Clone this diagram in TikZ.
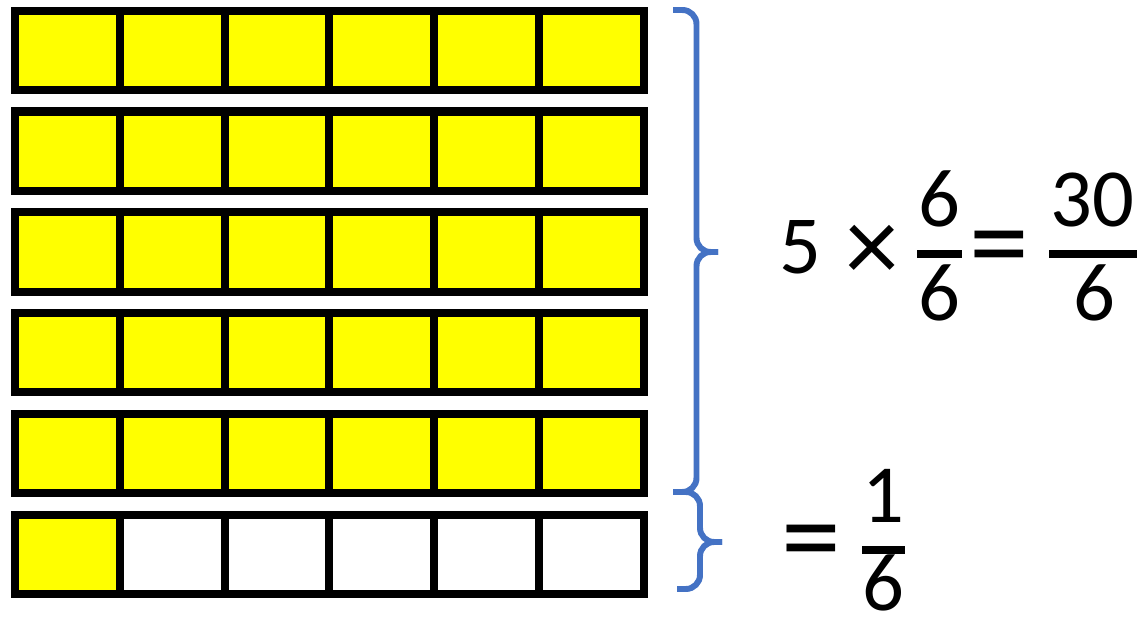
\documentclass[tikz,border=0pt]{standalone}
\usepackage{fontspec}
\setmainfont{Carlito}
\definecolor{gridyellow}{HTML}{FFFF00}
\definecolor{bracketblue}{HTML}{4472C4}
\begin{document}
\begin{tikzpicture}[x=1cm,y=-1cm,
    cell/.style={draw=black,line width=2.3pt},
    bracket/.style={draw=bracketblue,line width=1.7pt,rounded corners=4pt},
    digit/.style={inner sep=0pt,anchor=south,font=\fontsize{23.5}{28}\selectfont},
    sign/.style={inner sep=0pt,anchor=center,font=\fontsize{23.5}{28}\selectfont},
    fracbar/.style={line width=2pt}]
  \useasboundingbox (0,0) rectangle (11.4,6.21);

  % five whole bars
  \foreach \r in {0,...,4}
    \foreach \c in {0,...,5}
      \draw[cell,fill=gridyellow] ({0.15+1.048*\c},{0.107+1.008*\r})
        rectangle +(1.048,0.793);

  % last bar, only one sixth filled
  \draw[cell,fill=gridyellow] (0.15,5.147) rectangle +(1.048,0.793);
  \foreach \c in {1,...,5}
    \draw[cell,fill=white] ({0.15+1.048*\c},5.147) rectangle +(1.048,0.793);

  % big brace (five bars)
  \draw[bracket] (6.73,0.10) -- (6.965,0.10) -- (6.965,2.52) -- (7.18,2.52);
  \draw[bracket] (7.18,2.52) -- (6.965,2.52) -- (6.965,4.92) -- (6.73,4.92);

  % small brace (last bar)
  \draw[bracket] (6.73,4.92) -- (7.0,4.92) -- (7.0,5.42) -- (7.22,5.42);
  \draw[bracket] (7.22,5.42) -- (7.0,5.42) -- (7.0,5.89) -- (6.77,5.89);

  % 5 x 6/6 = 30/6
  \node[digit] (five) at (8.00,2.75) {5};
  \node[sign,scale=1.3] (times) at (8.725,2.535) {×};
  \node[digit] (numA) at (9.395,2.28) {6};
  \draw[fracbar] (9.17,2.54) -- (9.62,2.54);
  \node[digit] (denA) at (9.395,3.22) {6};
  \node[sign,scale=1.45] (eqA) at (9.99,2.57) {=};
  \node[digit] (numB) at (10.92,2.28) {30};
  \draw[fracbar] (10.49,2.54) -- (11.37,2.54);
  \node[digit] (denB) at (10.94,3.22) {6};

  % = 1/6
  \node[sign,scale=1.45] (eqB) at (8.11,5.51) {=};
  \node[digit] (numC) at (8.835,5.23) {1};
  \draw[fracbar] (8.62,5.50) -- (9.05,5.50);
  \node[digit] (denC) at (8.835,6.12) {6};
\end{tikzpicture}
\end{document}
